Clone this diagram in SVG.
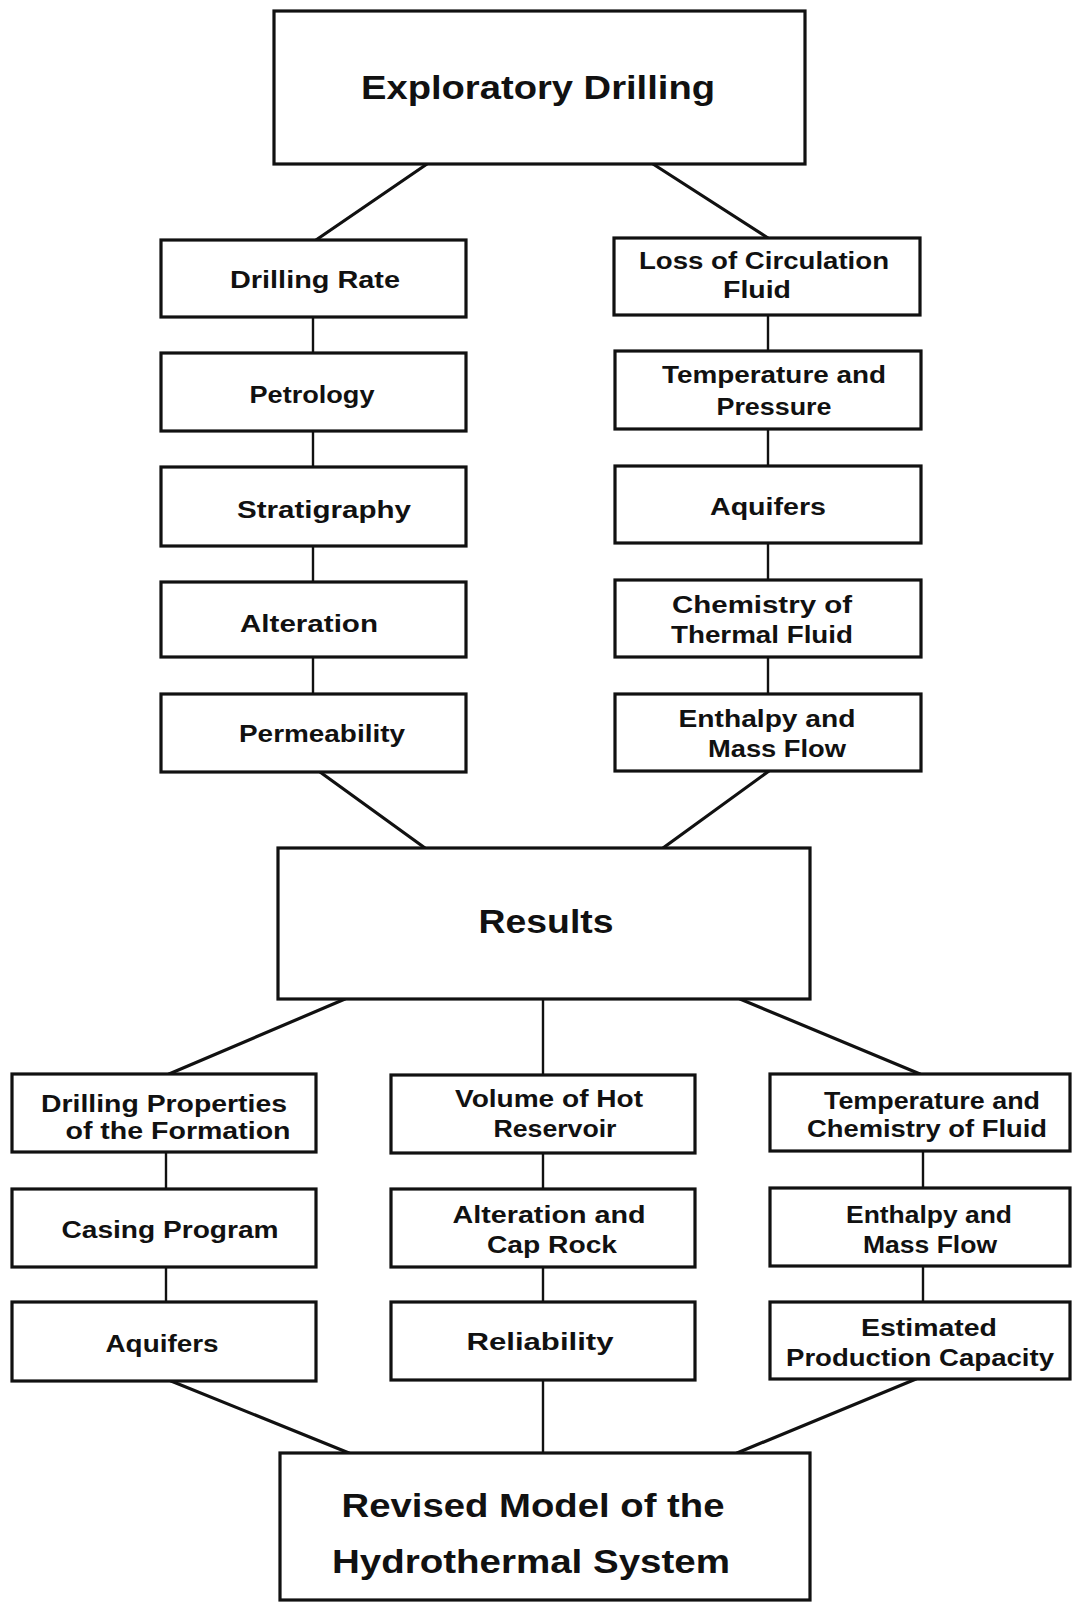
<svg xmlns="http://www.w3.org/2000/svg" width="1072" height="1603" viewBox="0 0 1072 1603">
<style>
.box{fill:#fff;stroke:#111;stroke-width:3.2}
.c{fill:none;stroke:#111;stroke-width:3.2;stroke-linecap:round}
.v{fill:none;stroke:#111;stroke-width:2.4}
text{font-family:"Liberation Sans",Arial,sans-serif;font-weight:bold;fill:#111;text-anchor:middle}
.s{font-size:23px}
.b{font-size:34px}
</style>
<rect width="1072" height="1603" fill="#fff"/>
<g id="connectors">
<line class="c" x1="427" y1="164" x2="316" y2="240"/>
<line class="c" x1="653" y1="164" x2="768" y2="238"/>
<line class="v" x1="313" y1="317" x2="313" y2="353"/>
<line class="v" x1="313" y1="431" x2="313" y2="467"/>
<line class="v" x1="313" y1="546" x2="313" y2="582"/>
<line class="v" x1="313" y1="657" x2="313" y2="694"/>
<line class="v" x1="768" y1="315" x2="768" y2="351"/>
<line class="v" x1="768" y1="429" x2="768" y2="466"/>
<line class="v" x1="768" y1="543" x2="768" y2="580"/>
<line class="v" x1="768" y1="657" x2="768" y2="694"/>
<line class="c" x1="320" y1="772" x2="425" y2="848"/>
<line class="c" x1="769" y1="771" x2="663" y2="848"/>
<line class="c" x1="345" y1="999" x2="169" y2="1074"/>
<line class="v" x1="543" y1="999" x2="543" y2="1075"/>
<line class="c" x1="740" y1="999" x2="920" y2="1074"/>
<line class="v" x1="166" y1="1152" x2="166" y2="1189"/>
<line class="v" x1="166" y1="1267" x2="166" y2="1302"/>
<line class="v" x1="543" y1="1153" x2="543" y2="1189"/>
<line class="v" x1="543" y1="1267" x2="543" y2="1302"/>
<line class="v" x1="923" y1="1151" x2="923" y2="1188"/>
<line class="v" x1="923" y1="1266" x2="923" y2="1302"/>
<line class="c" x1="171" y1="1381" x2="349" y2="1453"/>
<line class="v" x1="543" y1="1380" x2="543" y2="1453"/>
<line class="c" x1="916" y1="1379" x2="737" y2="1453"/>
</g>
<g id="exploratory-drilling"><rect class="box" x="274" y="11" width="531" height="153"/><text class="b" x="538" y="99" textLength="354" lengthAdjust="spacingAndGlyphs">Exploratory Drilling</text></g>
<g id="drilling-rate"><rect class="box" x="161" y="240" width="305" height="77"/><text class="s" x="315" y="288" textLength="170" lengthAdjust="spacingAndGlyphs">Drilling Rate</text></g>
<g id="petrology"><rect class="box" x="161" y="353" width="305" height="78"/><text class="s" x="312" y="403" textLength="125" lengthAdjust="spacingAndGlyphs">Petrology</text></g>
<g id="stratigraphy"><rect class="box" x="161" y="467" width="305" height="79"/><text class="s" x="324" y="518" textLength="174" lengthAdjust="spacingAndGlyphs">Stratigraphy</text></g>
<g id="alteration"><rect class="box" x="161" y="582" width="305" height="75"/><text class="s" x="309" y="632" textLength="138" lengthAdjust="spacingAndGlyphs">Alteration</text></g>
<g id="permeability"><rect class="box" x="161" y="694" width="305" height="78"/><text class="s" x="322" y="742" textLength="166" lengthAdjust="spacingAndGlyphs">Permeability</text></g>
<g id="loss-of-circulation-fluid"><rect class="box" x="614" y="238" width="306" height="77"/><text class="s" x="764" y="269" textLength="250" lengthAdjust="spacingAndGlyphs">Loss of Circulation</text><text class="s" x="757" y="298" textLength="68" lengthAdjust="spacingAndGlyphs">Fluid</text></g>
<g id="temperature-and-pressure"><rect class="box" x="615" y="351" width="306" height="78"/><text class="s" x="774" y="383" textLength="224" lengthAdjust="spacingAndGlyphs">Temperature and</text><text class="s" x="774" y="415" textLength="115" lengthAdjust="spacingAndGlyphs">Pressure</text></g>
<g id="aquifers-1"><rect class="box" x="615" y="466" width="306" height="77"/><text class="s" x="768" y="515" textLength="116" lengthAdjust="spacingAndGlyphs">Aquifers</text></g>
<g id="chemistry-of-thermal-fluid"><rect class="box" x="615" y="580" width="306" height="77"/><text class="s" x="762" y="613" textLength="180" lengthAdjust="spacingAndGlyphs">Chemistry  of</text><text class="s" x="762" y="643" textLength="182" lengthAdjust="spacingAndGlyphs">Thermal Fluid</text></g>
<g id="enthalpy-and-mass-flow-1"><rect class="box" x="615" y="694" width="306" height="77"/><text class="s" x="767" y="727" textLength="177" lengthAdjust="spacingAndGlyphs">Enthalpy and</text><text class="s" x="777" y="757" textLength="138" lengthAdjust="spacingAndGlyphs">Mass Flow</text></g>
<g id="results"><rect class="box" x="278" y="848" width="532" height="151"/><text class="b" x="546" y="933" textLength="135" lengthAdjust="spacingAndGlyphs">Results</text></g>
<g id="drilling-properties"><rect class="box" x="12" y="1074" width="304" height="78"/><text class="s" x="164" y="1112" textLength="246" lengthAdjust="spacingAndGlyphs">Drilling  Properties</text><text class="s" x="178" y="1139" textLength="225" lengthAdjust="spacingAndGlyphs">of the Formation</text></g>
<g id="volume-of-hot-reservoir"><rect class="box" x="391" y="1075" width="304" height="78"/><text class="s" x="549" y="1107" textLength="188" lengthAdjust="spacingAndGlyphs">Volume of Hot</text><text class="s" x="555" y="1137" textLength="123" lengthAdjust="spacingAndGlyphs">Reservoir</text></g>
<g id="temperature-and-chemistry"><rect class="box" x="770" y="1074" width="300" height="77"/><text class="s" x="932" y="1109" textLength="216" lengthAdjust="spacingAndGlyphs">Temperature and</text><text class="s" x="927" y="1137" textLength="240" lengthAdjust="spacingAndGlyphs">Chemistry of Fluid</text></g>
<g id="casing-program"><rect class="box" x="12" y="1189" width="304" height="78"/><text class="s" x="170" y="1238" textLength="217" lengthAdjust="spacingAndGlyphs">Casing  Program</text></g>
<g id="alteration-and-cap-rock"><rect class="box" x="391" y="1189" width="304" height="78"/><text class="s" x="549" y="1223" textLength="193" lengthAdjust="spacingAndGlyphs">Alteration and</text><text class="s" x="552" y="1253" textLength="130" lengthAdjust="spacingAndGlyphs">Cap Rock</text></g>
<g id="enthalpy-and-mass-flow-2"><rect class="box" x="770" y="1188" width="300" height="78"/><text class="s" x="929" y="1223" textLength="166" lengthAdjust="spacingAndGlyphs">Enthalpy and</text><text class="s" x="930" y="1253" textLength="134" lengthAdjust="spacingAndGlyphs">Mass Flow</text></g>
<g id="aquifers-2"><rect class="box" x="12" y="1302" width="304" height="79"/><text class="s" x="162" y="1352" textLength="113" lengthAdjust="spacingAndGlyphs">Aquifers</text></g>
<g id="reliability"><rect class="box" x="391" y="1302" width="304" height="78"/><text class="s" x="540" y="1350" textLength="147" lengthAdjust="spacingAndGlyphs">Reliability</text></g>
<g id="estimated-production-capacity"><rect class="box" x="770" y="1302" width="300" height="77"/><text class="s" x="929" y="1336" textLength="136" lengthAdjust="spacingAndGlyphs">Estimated</text><text class="s" x="920" y="1366" textLength="268" lengthAdjust="spacingAndGlyphs">Production Capacity</text></g>
<g id="revised-model"><rect class="box" x="280" y="1453" width="530" height="147"/><text class="b" x="533" y="1517" textLength="383" lengthAdjust="spacingAndGlyphs">Revised  Model  of  the</text><text class="b" x="531" y="1573" textLength="398" lengthAdjust="spacingAndGlyphs">Hydrothermal  System</text></g>
</svg>
